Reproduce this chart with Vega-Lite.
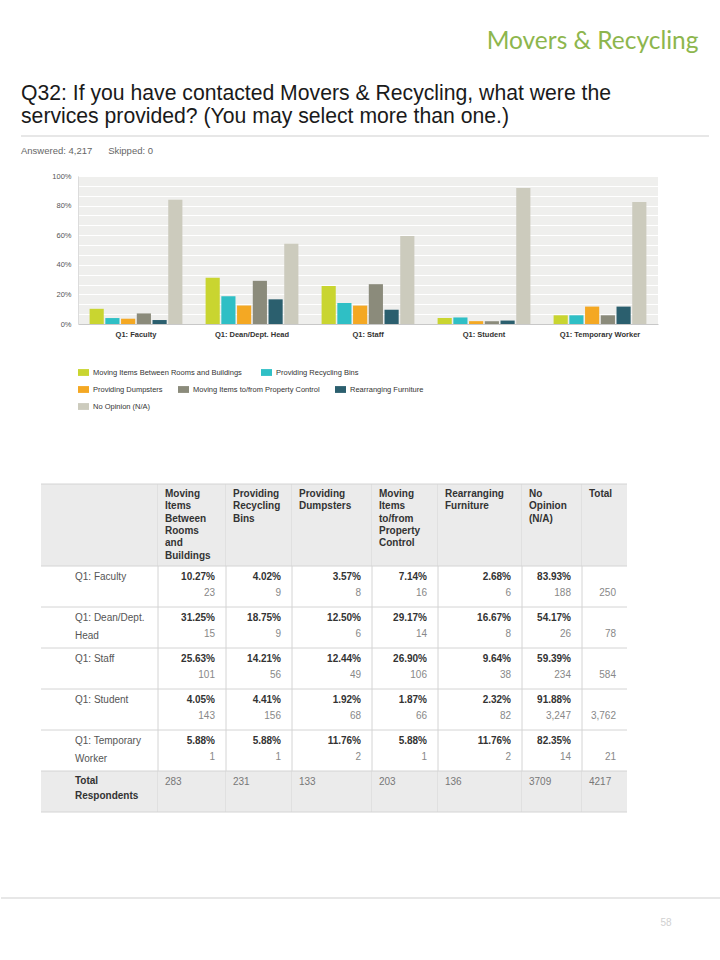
{
  "$schema": "https://vega.github.io/schema/vega-lite/v6.json",
  "padding": {"left": 0, "top": 29, "right": 0, "bottom": 0},
  "background": "white",
  "title": {"text": "Movers & Recycling", "anchor": "end", "frame": "bounds", "dx": -23, "font": "Lato", "fontSize": 24.5, "fontWeight": "normal", "color": "#8db64d", "offset": 28.5},
  "datasets": {
    "cells": [
      {"row": "Q1: Faculty", "svc": "Moving Items Between Rooms and Buildings", "pct": 0.1027, "n": 23},
      {"row": "Q1: Faculty", "svc": "Providing Recycling Bins", "pct": 0.0402, "n": 9},
      {"row": "Q1: Faculty", "svc": "Providing Dumpsters", "pct": 0.0357, "n": 8},
      {"row": "Q1: Faculty", "svc": "Moving Items to/from Property Control", "pct": 0.0714, "n": 16},
      {"row": "Q1: Faculty", "svc": "Rearranging Furniture", "pct": 0.0268, "n": 6},
      {"row": "Q1: Faculty", "svc": "No Opinion (N/A)", "pct": 0.8393, "n": 188},
      {"row": "Q1: Faculty", "svc": "Total", "n": 250},
      {"row": "Q1: Dean/Dept. Head", "svc": "Moving Items Between Rooms and Buildings", "pct": 0.3125, "n": 15},
      {"row": "Q1: Dean/Dept. Head", "svc": "Providing Recycling Bins", "pct": 0.1875, "n": 9},
      {"row": "Q1: Dean/Dept. Head", "svc": "Providing Dumpsters", "pct": 0.125, "n": 6},
      {"row": "Q1: Dean/Dept. Head", "svc": "Moving Items to/from Property Control", "pct": 0.2917, "n": 14},
      {"row": "Q1: Dean/Dept. Head", "svc": "Rearranging Furniture", "pct": 0.1667, "n": 8},
      {"row": "Q1: Dean/Dept. Head", "svc": "No Opinion (N/A)", "pct": 0.5417, "n": 26},
      {"row": "Q1: Dean/Dept. Head", "svc": "Total", "n": 78},
      {"row": "Q1: Staff", "svc": "Moving Items Between Rooms and Buildings", "pct": 0.2563, "n": 101},
      {"row": "Q1: Staff", "svc": "Providing Recycling Bins", "pct": 0.1421, "n": 56},
      {"row": "Q1: Staff", "svc": "Providing Dumpsters", "pct": 0.1244, "n": 49},
      {"row": "Q1: Staff", "svc": "Moving Items to/from Property Control", "pct": 0.269, "n": 106},
      {"row": "Q1: Staff", "svc": "Rearranging Furniture", "pct": 0.0964, "n": 38},
      {"row": "Q1: Staff", "svc": "No Opinion (N/A)", "pct": 0.5939, "n": 234},
      {"row": "Q1: Staff", "svc": "Total", "n": 584},
      {"row": "Q1: Student", "svc": "Moving Items Between Rooms and Buildings", "pct": 0.0405, "n": 143},
      {"row": "Q1: Student", "svc": "Providing Recycling Bins", "pct": 0.0441, "n": 156},
      {"row": "Q1: Student", "svc": "Providing Dumpsters", "pct": 0.0192, "n": 68},
      {"row": "Q1: Student", "svc": "Moving Items to/from Property Control", "pct": 0.0187, "n": 66},
      {"row": "Q1: Student", "svc": "Rearranging Furniture", "pct": 0.0232, "n": 82},
      {"row": "Q1: Student", "svc": "No Opinion (N/A)", "pct": 0.9188, "n": 3247},
      {"row": "Q1: Student", "svc": "Total", "n": 3762},
      {"row": "Q1: Temporary Worker", "svc": "Moving Items Between Rooms and Buildings", "pct": 0.0588, "n": 1},
      {"row": "Q1: Temporary Worker", "svc": "Providing Recycling Bins", "pct": 0.0588, "n": 1},
      {"row": "Q1: Temporary Worker", "svc": "Providing Dumpsters", "pct": 0.1176, "n": 2},
      {"row": "Q1: Temporary Worker", "svc": "Moving Items to/from Property Control", "pct": 0.0588, "n": 1},
      {"row": "Q1: Temporary Worker", "svc": "Rearranging Furniture", "pct": 0.1176, "n": 2},
      {"row": "Q1: Temporary Worker", "svc": "No Opinion (N/A)", "pct": 0.8235, "n": 14},
      {"row": "Q1: Temporary Worker", "svc": "Total", "n": 21}
    ],
    "totals": [
      {"row": "Total Respondents", "svc": "Moving Items Between Rooms and Buildings", "n": 283},
      {"row": "Total Respondents", "svc": "Providing Recycling Bins", "n": 231},
      {"row": "Total Respondents", "svc": "Providing Dumpsters", "n": 133},
      {"row": "Total Respondents", "svc": "Moving Items to/from Property Control", "n": 203},
      {"row": "Total Respondents", "svc": "Rearranging Furniture", "n": 136},
      {"row": "Total Respondents", "svc": "No Opinion (N/A)", "n": 3709},
      {"row": "Total Respondents", "svc": "Total", "n": 4217}
    ],
    "headers": [
      {"row": "H1", "svc": "Moving Items Between Rooms and Buildings", "text": "Moving\nItems\nBetween\nRooms\nand\nBuildings"},
      {"row": "H1", "svc": "Providing Recycling Bins", "text": "Providing\nRecycling\nBins"},
      {"row": "H1", "svc": "Providing Dumpsters", "text": "Providing\nDumpsters"},
      {"row": "H1", "svc": "Moving Items to/from Property Control", "text": "Moving\nItems\nto/from\nProperty\nControl"},
      {"row": "H1", "svc": "Rearranging Furniture", "text": "Rearranging\nFurniture"},
      {"row": "H1", "svc": "No Opinion (N/A)", "text": "No\nOpinion\n(N/A)"},
      {"row": "H1", "svc": "Total", "text": "Total"}
    ],
    "rowlabels": [
      {"row": "Q1: Faculty", "text": "Q1: Faculty"},
      {"row": "Q1: Dean/Dept. Head", "text": "Q1: Dean/Dept.\nHead"},
      {"row": "Q1: Staff", "text": "Q1: Staff"},
      {"row": "Q1: Student", "text": "Q1: Student"},
      {"row": "Q1: Temporary Worker", "text": "Q1: Temporary\nWorker"}
    ],
    "bg": [{"row": "H1"}, {"row": "H2"}, {"row": "Total Respondents"}],
    "hlines": [{"row": "H1"}, {"row": "Q1: Faculty"}, {"row": "Q1: Dean/Dept. Head"}, {"row": "Q1: Staff"}, {"row": "Q1: Student"}, {"row": "Q1: Temporary Worker"}, {"row": "Total Respondents"}]
  },
  "spacing": 84,
  "vconcat": [
    {
      "spacing": 73,
      "vconcat": [
        {
          "spacing": 8,
          "vconcat": [
            {
              "spacing": 0,
              "bounds": "flush",
              "hconcat": [
                {"width": 20, "height": 1, "view": {"stroke": null}, "data": {"values": []}, "mark": "point", "encoding": {}},
                {
                  "title": {"text": ["Q32: If you have contacted Movers & Recycling, what were the", "services provided? (You may select more than one.)"], "anchor": "start", "frame": "group", "font": "Liberation Sans", "fontSize": 21.2, "fontWeight": "normal", "lineHeight": 23, "color": "#1a1a1a", "offset": 8},
                  "width": 688, "height": 1,
                  "view": {"stroke": null},
                  "data": {"values": [{}]},
                  "mark": {"type": "rule", "color": "#cfcfcf", "strokeWidth": 1},
                  "encoding": {"y": {"datum": 1, "type": "quantitative", "scale": {"domain": [0, 1]}, "axis": null}}
                }
              ]
            },
            {
              "spacing": 0,
              "bounds": "flush",
              "hconcat": [
                {"width": 77, "height": 1, "view": {"stroke": null}, "data": {"values": []}, "mark": "point", "encoding": {}},
                {
                  "title": {"text": "Answered: 4,217\u00a0\u00a0\u00a0\u00a0\u00a0\u00a0Skipped: 0", "anchor": "start", "frame": "group", "dx": -57, "offset": 17, "font": "Liberation Sans", "fontSize": 9.5, "fontWeight": "normal", "color": "#666666"},
                  "width": 580, "height": 148,
                  "view": {"fill": "#efefed", "stroke": null},
                  "data": {"name": "cells"},
                  "transform": [{"filter": "datum.svc !== 'Total'"}],
                  "encoding": {
                    "x": {"field": "row", "type": "nominal", "scale": {"domain": ["Q1: Faculty", "Q1: Dean/Dept. Head", "Q1: Staff", "Q1: Student", "Q1: Temporary Worker"], "paddingInner": 0.2, "paddingOuter": 0.1}, "axis": {"title": null, "labelAngle": 0, "labelFontWeight": "bold", "labelFontSize": 7.5, "labelColor": "#333333", "ticks": false, "labelPadding": 6, "domainColor": "#c8c8c8", "grid": false}},
                    "xOffset": {"field": "svc", "type": "nominal", "scale": {"domain": ["Moving Items Between Rooms and Buildings", "Providing Recycling Bins", "Providing Dumpsters", "Moving Items to/from Property Control", "Rearranging Furniture", "No Opinion (N/A)"], "paddingInner": 0.1, "paddingOuter": 0}},
                    "y": {"field": "pct", "type": "quantitative", "scale": {"domain": [0, 1], "nice": false}, "axis": {"title": null, "values": [0, 0.0667, 0.1333, 0.2, 0.2667, 0.3333, 0.4, 0.4667, 0.5333, 0.6, 0.6667, 0.7333, 0.8, 0.8667, 0.9333, 1], "labelExpr": "round(datum.value*100) % 20 == 0 ? format(datum.value, '.0%') : ''", "ticks": false, "domainColor": "#dcdcdc", "gridColor": "#ffffff", "gridWidth": 1, "labelFontSize": 7.5, "labelColor": "#555555", "labelPadding": 7}}
                  },
                  "layer": [
                    {
                      "transform": [{"filter": {"field": "svc", "oneOf": ["Moving Items Between Rooms and Buildings", "Providing Recycling Bins"]}}],
                      "mark": {"type": "bar"},
                      "encoding": {"color": {"field": "svc", "type": "nominal", "scale": {"domain": ["Moving Items Between Rooms and Buildings", "Providing Recycling Bins"], "range": ["#c9d530", "#2fbfc5"]}, "legend": {"orient": "bottom", "direction": "horizontal", "title": null, "symbolType": "M-1,-0.62H1V0.62H-1Z", "symbolSize": 121, "symbolStrokeWidth": 0, "labelFontSize": 7.5, "labelColor": "#333333", "labelLimit": 300, "labelOffset": 4, "columnPadding": 19, "offset": 29}}}
                    },
                    {
                      "transform": [{"filter": {"field": "svc", "oneOf": ["Providing Dumpsters", "Moving Items to/from Property Control", "Rearranging Furniture"]}}],
                      "mark": {"type": "bar"},
                      "encoding": {"color": {"field": "svc", "type": "nominal", "scale": {"domain": ["Providing Dumpsters", "Moving Items to/from Property Control", "Rearranging Furniture"], "range": ["#f4a823", "#8b8b7b", "#2b5f6e"]}, "legend": {"orient": "bottom", "direction": "horizontal", "title": null, "symbolType": "M-1,-0.62H1V0.62H-1Z", "symbolSize": 121, "symbolStrokeWidth": 0, "labelFontSize": 7.5, "labelColor": "#333333", "labelLimit": 300, "labelOffset": 4, "columnPadding": 15, "offset": 29}}}
                    },
                    {
                      "transform": [{"filter": {"field": "svc", "equal": "No Opinion (N/A)"}}],
                      "mark": {"type": "bar"},
                      "encoding": {"color": {"field": "svc", "type": "nominal", "scale": {"domain": ["No Opinion (N/A)"], "range": ["#cccbbd"]}, "legend": {"orient": "bottom", "direction": "horizontal", "title": null, "symbolType": "M-1,-0.62H1V0.62H-1Z", "symbolSize": 121, "symbolStrokeWidth": 0, "labelFontSize": 7.5, "labelColor": "#333333", "labelLimit": 300, "labelOffset": 4, "offset": 29}}}
                    }
                  ],
                  "resolve": {"scale": {"color": "independent"}}
                }
              ]
            }
          ]
        },
        {
          "spacing": 0,
          "bounds": "flush",
          "hconcat": [
            {"width": 40, "height": 1, "view": {"stroke": null}, "data": {"values": []}, "mark": "point", "encoding": {}},
            {
              "width": 117, "height": 328, "view": {"stroke": null},
              "layer": [
                {"data": {"name": "bg"}, "mark": {"type": "rect", "color": "#ebebeb"}, "encoding": {"x": {"datum": 0, "type": "quantitative", "scale": {"domain": [0, 1], "nice": false, "zero": false}, "axis": null}, "x2": {"datum": 1}, "y": {"field": "row", "type": "nominal", "scale": {"domain": ["H1", "H2", "Q1: Faculty", "Q1: Dean/Dept. Head", "Q1: Staff", "Q1: Student", "Q1: Temporary Worker", "Total Respondents"], "paddingInner": 0, "paddingOuter": 0}, "axis": null}}},
                {"data": {"name": "hlines"}, "mark": {"type": "rule", "color": "#d4d4d4"}, "encoding": {"y": {"field": "row", "type": "nominal", "bandPosition": 0, "axis": null}}},
                {"data": {"values": [{"row": "Total Respondents"}]}, "mark": {"type": "rule", "color": "#d4d4d4"}, "encoding": {"y": {"field": "row", "type": "nominal", "bandPosition": 1, "axis": null}}},
                {"data": {"values": [{}]}, "mark": {"type": "rule", "color": "#d4d4d4"}, "encoding": {"x": {"datum": 1, "type": "quantitative", "axis": null}}},
                {"data": {"name": "rowlabels"}, "mark": {"type": "text", "align": "left", "baseline": "top", "dx": 34, "dy": 6, "fontSize": 10, "lineHeight": 18, "lineBreak": "\n", "color": "#555555"}, "encoding": {"x": {"datum": 0, "type": "quantitative", "axis": null}, "y": {"field": "row", "type": "nominal", "bandPosition": 0, "axis": null}, "text": {"field": "text"}}},
                {"data": {"values": [{"row": "Total Respondents", "text": "Total\nRespondents"}]}, "mark": {"type": "text", "align": "left", "baseline": "top", "dx": 34, "dy": 5, "fontSize": 10, "fontWeight": "bold", "lineHeight": 14.5, "lineBreak": "\n", "color": "#333333"}, "encoding": {"x": {"datum": 0, "type": "quantitative", "axis": null}, "y": {"field": "row", "type": "nominal", "bandPosition": 0, "axis": null}, "text": {"field": "text"}}}
              ]
            },
            {
              "width": 68, "height": 328, "view": {"stroke": null},
              "layer": [
                {"data": {"name": "bg"}, "mark": {"type": "rect", "color": "#ebebeb"}, "encoding": {"x": {"datum": 0, "type": "quantitative", "scale": {"domain": [0, 1], "nice": false, "zero": false}, "axis": null}, "x2": {"datum": 1}, "y": {"field": "row", "type": "nominal", "scale": {"domain": ["H1", "H2", "Q1: Faculty", "Q1: Dean/Dept. Head", "Q1: Staff", "Q1: Student", "Q1: Temporary Worker", "Total Respondents"], "paddingInner": 0, "paddingOuter": 0}, "axis": null}}},
                {"data": {"name": "hlines"}, "mark": {"type": "rule", "color": "#d4d4d4"}, "encoding": {"y": {"field": "row", "type": "nominal", "bandPosition": 0, "axis": null}}},
                {"data": {"values": [{"row": "Total Respondents"}]}, "mark": {"type": "rule", "color": "#d4d4d4"}, "encoding": {"y": {"field": "row", "type": "nominal", "bandPosition": 1, "axis": null}}},
                {"data": {"values": [{}]}, "mark": {"type": "rule", "color": "#d4d4d4"}, "encoding": {"x": {"datum": 1, "type": "quantitative", "axis": null}}},
                {"data": {"name": "headers"}, "transform": [{"filter": {"field": "svc", "equal": "Moving Items Between Rooms and Buildings"}}], "mark": {"type": "text", "align": "left", "baseline": "top", "dx": 7, "dy": 5, "fontSize": 10, "fontWeight": "bold", "lineHeight": 12.3, "lineBreak": "\n", "color": "#333333"}, "encoding": {"x": {"datum": 0, "type": "quantitative", "axis": null}, "y": {"field": "row", "type": "nominal", "bandPosition": 0, "axis": null}, "text": {"field": "text"}}},
                {"data": {"name": "cells"}, "transform": [{"filter": {"field": "svc", "equal": "Moving Items Between Rooms and Buildings"}}], "mark": {"type": "text", "align": "right", "baseline": "middle", "dx": -11, "dy": 11, "fontSize": 10, "fontWeight": "bold", "color": "#333333"}, "encoding": {"x": {"datum": 1, "type": "quantitative", "axis": null}, "y": {"field": "row", "type": "nominal", "bandPosition": 0, "axis": null}, "text": {"field": "pct", "format": ".2%"}}},
                {"data": {"name": "cells"}, "transform": [{"filter": {"field": "svc", "equal": "Moving Items Between Rooms and Buildings"}}], "mark": {"type": "text", "align": "right", "baseline": "middle", "dx": -11, "dy": 27, "fontSize": 10, "color": "#888888"}, "encoding": {"x": {"datum": 1, "type": "quantitative", "axis": null}, "y": {"field": "row", "type": "nominal", "bandPosition": 0, "axis": null}, "text": {"field": "n", "format": ",d"}}},
                {"data": {"name": "totals"}, "transform": [{"filter": {"field": "svc", "equal": "Moving Items Between Rooms and Buildings"}}], "mark": {"type": "text", "align": "left", "baseline": "middle", "dx": 7, "dy": 10.5, "fontSize": 10, "color": "#777777"}, "encoding": {"x": {"datum": 0, "type": "quantitative", "axis": null}, "y": {"field": "row", "type": "nominal", "bandPosition": 0, "axis": null}, "text": {"field": "n", "format": "d"}}}
              ]
            },
            {
              "width": 66, "height": 328, "view": {"stroke": null},
              "layer": [
                {"data": {"name": "bg"}, "mark": {"type": "rect", "color": "#ebebeb"}, "encoding": {"x": {"datum": 0, "type": "quantitative", "scale": {"domain": [0, 1], "nice": false, "zero": false}, "axis": null}, "x2": {"datum": 1}, "y": {"field": "row", "type": "nominal", "scale": {"domain": ["H1", "H2", "Q1: Faculty", "Q1: Dean/Dept. Head", "Q1: Staff", "Q1: Student", "Q1: Temporary Worker", "Total Respondents"], "paddingInner": 0, "paddingOuter": 0}, "axis": null}}},
                {"data": {"name": "hlines"}, "mark": {"type": "rule", "color": "#d4d4d4"}, "encoding": {"y": {"field": "row", "type": "nominal", "bandPosition": 0, "axis": null}}},
                {"data": {"values": [{"row": "Total Respondents"}]}, "mark": {"type": "rule", "color": "#d4d4d4"}, "encoding": {"y": {"field": "row", "type": "nominal", "bandPosition": 1, "axis": null}}},
                {"data": {"values": [{}]}, "mark": {"type": "rule", "color": "#d4d4d4"}, "encoding": {"x": {"datum": 1, "type": "quantitative", "axis": null}}},
                {"data": {"name": "headers"}, "transform": [{"filter": {"field": "svc", "equal": "Providing Recycling Bins"}}], "mark": {"type": "text", "align": "left", "baseline": "top", "dx": 7, "dy": 5, "fontSize": 10, "fontWeight": "bold", "lineHeight": 12.3, "lineBreak": "\n", "color": "#333333"}, "encoding": {"x": {"datum": 0, "type": "quantitative", "axis": null}, "y": {"field": "row", "type": "nominal", "bandPosition": 0, "axis": null}, "text": {"field": "text"}}},
                {"data": {"name": "cells"}, "transform": [{"filter": {"field": "svc", "equal": "Providing Recycling Bins"}}], "mark": {"type": "text", "align": "right", "baseline": "middle", "dx": -11, "dy": 11, "fontSize": 10, "fontWeight": "bold", "color": "#333333"}, "encoding": {"x": {"datum": 1, "type": "quantitative", "axis": null}, "y": {"field": "row", "type": "nominal", "bandPosition": 0, "axis": null}, "text": {"field": "pct", "format": ".2%"}}},
                {"data": {"name": "cells"}, "transform": [{"filter": {"field": "svc", "equal": "Providing Recycling Bins"}}], "mark": {"type": "text", "align": "right", "baseline": "middle", "dx": -11, "dy": 27, "fontSize": 10, "color": "#888888"}, "encoding": {"x": {"datum": 1, "type": "quantitative", "axis": null}, "y": {"field": "row", "type": "nominal", "bandPosition": 0, "axis": null}, "text": {"field": "n", "format": ",d"}}},
                {"data": {"name": "totals"}, "transform": [{"filter": {"field": "svc", "equal": "Providing Recycling Bins"}}], "mark": {"type": "text", "align": "left", "baseline": "middle", "dx": 7, "dy": 10.5, "fontSize": 10, "color": "#777777"}, "encoding": {"x": {"datum": 0, "type": "quantitative", "axis": null}, "y": {"field": "row", "type": "nominal", "bandPosition": 0, "axis": null}, "text": {"field": "n", "format": "d"}}}
              ]
            },
            {
              "width": 80, "height": 328, "view": {"stroke": null},
              "layer": [
                {"data": {"name": "bg"}, "mark": {"type": "rect", "color": "#ebebeb"}, "encoding": {"x": {"datum": 0, "type": "quantitative", "scale": {"domain": [0, 1], "nice": false, "zero": false}, "axis": null}, "x2": {"datum": 1}, "y": {"field": "row", "type": "nominal", "scale": {"domain": ["H1", "H2", "Q1: Faculty", "Q1: Dean/Dept. Head", "Q1: Staff", "Q1: Student", "Q1: Temporary Worker", "Total Respondents"], "paddingInner": 0, "paddingOuter": 0}, "axis": null}}},
                {"data": {"name": "hlines"}, "mark": {"type": "rule", "color": "#d4d4d4"}, "encoding": {"y": {"field": "row", "type": "nominal", "bandPosition": 0, "axis": null}}},
                {"data": {"values": [{"row": "Total Respondents"}]}, "mark": {"type": "rule", "color": "#d4d4d4"}, "encoding": {"y": {"field": "row", "type": "nominal", "bandPosition": 1, "axis": null}}},
                {"data": {"values": [{}]}, "mark": {"type": "rule", "color": "#d4d4d4"}, "encoding": {"x": {"datum": 1, "type": "quantitative", "axis": null}}},
                {"data": {"name": "headers"}, "transform": [{"filter": {"field": "svc", "equal": "Providing Dumpsters"}}], "mark": {"type": "text", "align": "left", "baseline": "top", "dx": 7, "dy": 5, "fontSize": 10, "fontWeight": "bold", "lineHeight": 12.3, "lineBreak": "\n", "color": "#333333"}, "encoding": {"x": {"datum": 0, "type": "quantitative", "axis": null}, "y": {"field": "row", "type": "nominal", "bandPosition": 0, "axis": null}, "text": {"field": "text"}}},
                {"data": {"name": "cells"}, "transform": [{"filter": {"field": "svc", "equal": "Providing Dumpsters"}}], "mark": {"type": "text", "align": "right", "baseline": "middle", "dx": -11, "dy": 11, "fontSize": 10, "fontWeight": "bold", "color": "#333333"}, "encoding": {"x": {"datum": 1, "type": "quantitative", "axis": null}, "y": {"field": "row", "type": "nominal", "bandPosition": 0, "axis": null}, "text": {"field": "pct", "format": ".2%"}}},
                {"data": {"name": "cells"}, "transform": [{"filter": {"field": "svc", "equal": "Providing Dumpsters"}}], "mark": {"type": "text", "align": "right", "baseline": "middle", "dx": -11, "dy": 27, "fontSize": 10, "color": "#888888"}, "encoding": {"x": {"datum": 1, "type": "quantitative", "axis": null}, "y": {"field": "row", "type": "nominal", "bandPosition": 0, "axis": null}, "text": {"field": "n", "format": ",d"}}},
                {"data": {"name": "totals"}, "transform": [{"filter": {"field": "svc", "equal": "Providing Dumpsters"}}], "mark": {"type": "text", "align": "left", "baseline": "middle", "dx": 7, "dy": 10.5, "fontSize": 10, "color": "#777777"}, "encoding": {"x": {"datum": 0, "type": "quantitative", "axis": null}, "y": {"field": "row", "type": "nominal", "bandPosition": 0, "axis": null}, "text": {"field": "n", "format": "d"}}}
              ]
            },
            {
              "width": 66, "height": 328, "view": {"stroke": null},
              "layer": [
                {"data": {"name": "bg"}, "mark": {"type": "rect", "color": "#ebebeb"}, "encoding": {"x": {"datum": 0, "type": "quantitative", "scale": {"domain": [0, 1], "nice": false, "zero": false}, "axis": null}, "x2": {"datum": 1}, "y": {"field": "row", "type": "nominal", "scale": {"domain": ["H1", "H2", "Q1: Faculty", "Q1: Dean/Dept. Head", "Q1: Staff", "Q1: Student", "Q1: Temporary Worker", "Total Respondents"], "paddingInner": 0, "paddingOuter": 0}, "axis": null}}},
                {"data": {"name": "hlines"}, "mark": {"type": "rule", "color": "#d4d4d4"}, "encoding": {"y": {"field": "row", "type": "nominal", "bandPosition": 0, "axis": null}}},
                {"data": {"values": [{"row": "Total Respondents"}]}, "mark": {"type": "rule", "color": "#d4d4d4"}, "encoding": {"y": {"field": "row", "type": "nominal", "bandPosition": 1, "axis": null}}},
                {"data": {"values": [{}]}, "mark": {"type": "rule", "color": "#d4d4d4"}, "encoding": {"x": {"datum": 1, "type": "quantitative", "axis": null}}},
                {"data": {"name": "headers"}, "transform": [{"filter": {"field": "svc", "equal": "Moving Items to/from Property Control"}}], "mark": {"type": "text", "align": "left", "baseline": "top", "dx": 7, "dy": 5, "fontSize": 10, "fontWeight": "bold", "lineHeight": 12.3, "lineBreak": "\n", "color": "#333333"}, "encoding": {"x": {"datum": 0, "type": "quantitative", "axis": null}, "y": {"field": "row", "type": "nominal", "bandPosition": 0, "axis": null}, "text": {"field": "text"}}},
                {"data": {"name": "cells"}, "transform": [{"filter": {"field": "svc", "equal": "Moving Items to/from Property Control"}}], "mark": {"type": "text", "align": "right", "baseline": "middle", "dx": -11, "dy": 11, "fontSize": 10, "fontWeight": "bold", "color": "#333333"}, "encoding": {"x": {"datum": 1, "type": "quantitative", "axis": null}, "y": {"field": "row", "type": "nominal", "bandPosition": 0, "axis": null}, "text": {"field": "pct", "format": ".2%"}}},
                {"data": {"name": "cells"}, "transform": [{"filter": {"field": "svc", "equal": "Moving Items to/from Property Control"}}], "mark": {"type": "text", "align": "right", "baseline": "middle", "dx": -11, "dy": 27, "fontSize": 10, "color": "#888888"}, "encoding": {"x": {"datum": 1, "type": "quantitative", "axis": null}, "y": {"field": "row", "type": "nominal", "bandPosition": 0, "axis": null}, "text": {"field": "n", "format": ",d"}}},
                {"data": {"name": "totals"}, "transform": [{"filter": {"field": "svc", "equal": "Moving Items to/from Property Control"}}], "mark": {"type": "text", "align": "left", "baseline": "middle", "dx": 7, "dy": 10.5, "fontSize": 10, "color": "#777777"}, "encoding": {"x": {"datum": 0, "type": "quantitative", "axis": null}, "y": {"field": "row", "type": "nominal", "bandPosition": 0, "axis": null}, "text": {"field": "n", "format": "d"}}}
              ]
            },
            {
              "width": 84, "height": 328, "view": {"stroke": null},
              "layer": [
                {"data": {"name": "bg"}, "mark": {"type": "rect", "color": "#ebebeb"}, "encoding": {"x": {"datum": 0, "type": "quantitative", "scale": {"domain": [0, 1], "nice": false, "zero": false}, "axis": null}, "x2": {"datum": 1}, "y": {"field": "row", "type": "nominal", "scale": {"domain": ["H1", "H2", "Q1: Faculty", "Q1: Dean/Dept. Head", "Q1: Staff", "Q1: Student", "Q1: Temporary Worker", "Total Respondents"], "paddingInner": 0, "paddingOuter": 0}, "axis": null}}},
                {"data": {"name": "hlines"}, "mark": {"type": "rule", "color": "#d4d4d4"}, "encoding": {"y": {"field": "row", "type": "nominal", "bandPosition": 0, "axis": null}}},
                {"data": {"values": [{"row": "Total Respondents"}]}, "mark": {"type": "rule", "color": "#d4d4d4"}, "encoding": {"y": {"field": "row", "type": "nominal", "bandPosition": 1, "axis": null}}},
                {"data": {"values": [{}]}, "mark": {"type": "rule", "color": "#d4d4d4"}, "encoding": {"x": {"datum": 1, "type": "quantitative", "axis": null}}},
                {"data": {"name": "headers"}, "transform": [{"filter": {"field": "svc", "equal": "Rearranging Furniture"}}], "mark": {"type": "text", "align": "left", "baseline": "top", "dx": 7, "dy": 5, "fontSize": 10, "fontWeight": "bold", "lineHeight": 12.3, "lineBreak": "\n", "color": "#333333"}, "encoding": {"x": {"datum": 0, "type": "quantitative", "axis": null}, "y": {"field": "row", "type": "nominal", "bandPosition": 0, "axis": null}, "text": {"field": "text"}}},
                {"data": {"name": "cells"}, "transform": [{"filter": {"field": "svc", "equal": "Rearranging Furniture"}}], "mark": {"type": "text", "align": "right", "baseline": "middle", "dx": -11, "dy": 11, "fontSize": 10, "fontWeight": "bold", "color": "#333333"}, "encoding": {"x": {"datum": 1, "type": "quantitative", "axis": null}, "y": {"field": "row", "type": "nominal", "bandPosition": 0, "axis": null}, "text": {"field": "pct", "format": ".2%"}}},
                {"data": {"name": "cells"}, "transform": [{"filter": {"field": "svc", "equal": "Rearranging Furniture"}}], "mark": {"type": "text", "align": "right", "baseline": "middle", "dx": -11, "dy": 27, "fontSize": 10, "color": "#888888"}, "encoding": {"x": {"datum": 1, "type": "quantitative", "axis": null}, "y": {"field": "row", "type": "nominal", "bandPosition": 0, "axis": null}, "text": {"field": "n", "format": ",d"}}},
                {"data": {"name": "totals"}, "transform": [{"filter": {"field": "svc", "equal": "Rearranging Furniture"}}], "mark": {"type": "text", "align": "left", "baseline": "middle", "dx": 7, "dy": 10.5, "fontSize": 10, "color": "#777777"}, "encoding": {"x": {"datum": 0, "type": "quantitative", "axis": null}, "y": {"field": "row", "type": "nominal", "bandPosition": 0, "axis": null}, "text": {"field": "n", "format": "d"}}}
              ]
            },
            {
              "width": 60, "height": 328, "view": {"stroke": null},
              "layer": [
                {"data": {"name": "bg"}, "mark": {"type": "rect", "color": "#ebebeb"}, "encoding": {"x": {"datum": 0, "type": "quantitative", "scale": {"domain": [0, 1], "nice": false, "zero": false}, "axis": null}, "x2": {"datum": 1}, "y": {"field": "row", "type": "nominal", "scale": {"domain": ["H1", "H2", "Q1: Faculty", "Q1: Dean/Dept. Head", "Q1: Staff", "Q1: Student", "Q1: Temporary Worker", "Total Respondents"], "paddingInner": 0, "paddingOuter": 0}, "axis": null}}},
                {"data": {"name": "hlines"}, "mark": {"type": "rule", "color": "#d4d4d4"}, "encoding": {"y": {"field": "row", "type": "nominal", "bandPosition": 0, "axis": null}}},
                {"data": {"values": [{"row": "Total Respondents"}]}, "mark": {"type": "rule", "color": "#d4d4d4"}, "encoding": {"y": {"field": "row", "type": "nominal", "bandPosition": 1, "axis": null}}},
                {"data": {"values": [{}]}, "mark": {"type": "rule", "color": "#d4d4d4"}, "encoding": {"x": {"datum": 1, "type": "quantitative", "axis": null}}},
                {"data": {"name": "headers"}, "transform": [{"filter": {"field": "svc", "equal": "No Opinion (N/A)"}}], "mark": {"type": "text", "align": "left", "baseline": "top", "dx": 7, "dy": 5, "fontSize": 10, "fontWeight": "bold", "lineHeight": 12.3, "lineBreak": "\n", "color": "#333333"}, "encoding": {"x": {"datum": 0, "type": "quantitative", "axis": null}, "y": {"field": "row", "type": "nominal", "bandPosition": 0, "axis": null}, "text": {"field": "text"}}},
                {"data": {"name": "cells"}, "transform": [{"filter": {"field": "svc", "equal": "No Opinion (N/A)"}}], "mark": {"type": "text", "align": "right", "baseline": "middle", "dx": -11, "dy": 11, "fontSize": 10, "fontWeight": "bold", "color": "#333333"}, "encoding": {"x": {"datum": 1, "type": "quantitative", "axis": null}, "y": {"field": "row", "type": "nominal", "bandPosition": 0, "axis": null}, "text": {"field": "pct", "format": ".2%"}}},
                {"data": {"name": "cells"}, "transform": [{"filter": {"field": "svc", "equal": "No Opinion (N/A)"}}], "mark": {"type": "text", "align": "right", "baseline": "middle", "dx": -11, "dy": 27, "fontSize": 10, "color": "#888888"}, "encoding": {"x": {"datum": 1, "type": "quantitative", "axis": null}, "y": {"field": "row", "type": "nominal", "bandPosition": 0, "axis": null}, "text": {"field": "n", "format": ",d"}}},
                {"data": {"name": "totals"}, "transform": [{"filter": {"field": "svc", "equal": "No Opinion (N/A)"}}], "mark": {"type": "text", "align": "left", "baseline": "middle", "dx": 7, "dy": 10.5, "fontSize": 10, "color": "#777777"}, "encoding": {"x": {"datum": 0, "type": "quantitative", "axis": null}, "y": {"field": "row", "type": "nominal", "bandPosition": 0, "axis": null}, "text": {"field": "n", "format": "d"}}}
              ]
            },
            {
              "width": 45, "height": 328, "view": {"stroke": null},
              "layer": [
                {"data": {"name": "bg"}, "mark": {"type": "rect", "color": "#ebebeb"}, "encoding": {"x": {"datum": 0, "type": "quantitative", "scale": {"domain": [0, 1], "nice": false, "zero": false}, "axis": null}, "x2": {"datum": 1}, "y": {"field": "row", "type": "nominal", "scale": {"domain": ["H1", "H2", "Q1: Faculty", "Q1: Dean/Dept. Head", "Q1: Staff", "Q1: Student", "Q1: Temporary Worker", "Total Respondents"], "paddingInner": 0, "paddingOuter": 0}, "axis": null}}},
                {"data": {"name": "hlines"}, "mark": {"type": "rule", "color": "#d4d4d4"}, "encoding": {"y": {"field": "row", "type": "nominal", "bandPosition": 0, "axis": null}}},
                {"data": {"values": [{"row": "Total Respondents"}]}, "mark": {"type": "rule", "color": "#d4d4d4"}, "encoding": {"y": {"field": "row", "type": "nominal", "bandPosition": 1, "axis": null}}},
                {"data": {"name": "headers"}, "transform": [{"filter": {"field": "svc", "equal": "Total"}}], "mark": {"type": "text", "align": "left", "baseline": "top", "dx": 7, "dy": 5, "fontSize": 10, "fontWeight": "bold", "lineHeight": 12.3, "lineBreak": "\n", "color": "#333333"}, "encoding": {"x": {"datum": 0, "type": "quantitative", "axis": null}, "y": {"field": "row", "type": "nominal", "bandPosition": 0, "axis": null}, "text": {"field": "text"}}},
                {"data": {"name": "cells"}, "transform": [{"filter": {"field": "svc", "equal": "Total"}}], "mark": {"type": "text", "align": "right", "baseline": "middle", "dx": -11, "dy": 27, "fontSize": 10, "color": "#888888"}, "encoding": {"x": {"datum": 1, "type": "quantitative", "axis": null}, "y": {"field": "row", "type": "nominal", "bandPosition": 0, "axis": null}, "text": {"field": "n", "format": ",d"}}},
                {"data": {"name": "totals"}, "transform": [{"filter": {"field": "svc", "equal": "Total"}}], "mark": {"type": "text", "align": "left", "baseline": "middle", "dx": 7, "dy": 10.5, "fontSize": 10, "color": "#777777"}, "encoding": {"x": {"datum": 0, "type": "quantitative", "axis": null}, "y": {"field": "row", "type": "nominal", "bandPosition": 0, "axis": null}, "text": {"field": "n", "format": "d"}}}
              ]
            }
          ]
        }
      ]
    },
    {
      "width": 720, "height": 30,
      "view": {"stroke": null},
      "data": {"values": [{"page": "58"}]},
      "layer": [
        {"mark": {"type": "rule", "color": "#cfcfcf"}, "encoding": {"y": {"datum": 1, "type": "quantitative", "scale": {"domain": [0, 1]}, "axis": null}}},
        {"mark": {"type": "text", "dx": -55, "dy": 25, "align": "center", "baseline": "middle", "fontSize": 10, "color": "#d0d0d0"}, "encoding": {"x": {"datum": 1, "type": "quantitative", "scale": {"domain": [0, 1]}, "axis": null}, "y": {"datum": 1, "type": "quantitative", "axis": null}, "text": {"field": "page"}}}
      ]
    }
  ],
  "config": {
    "font": "Liberation Sans",
    "view": {"stroke": null},
    "legend": {"layout": {"bottom": {"direction": "vertical", "anchor": "start", "margin": 8}}}
  }
}
